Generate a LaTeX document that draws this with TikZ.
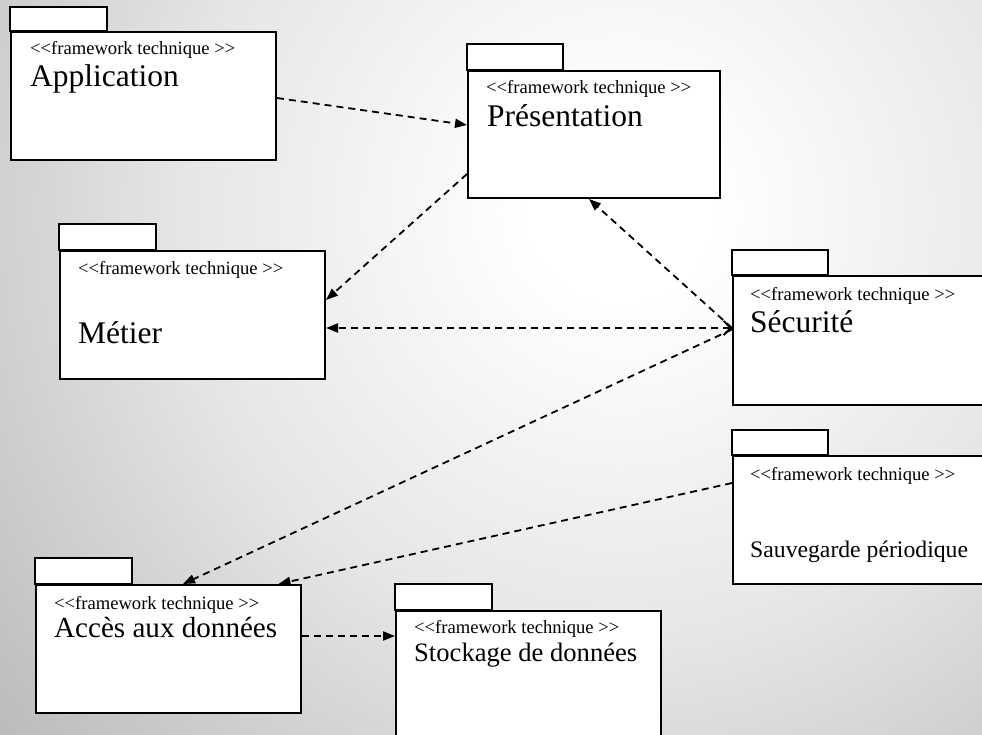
\documentclass[tikz,border=0pt]{standalone}
\usepackage{fontspec}
\setmainfont{Liberation Serif}
\usetikzlibrary{arrows.meta}

% soft radial backdrop: white centre fading to mid grey
% (the central 25bp radius is what gets scaled onto the shaded circle)
\pgfdeclareradialshading{backdrop}{\pgfpoint{0bp}{0bp}}{%
  color(0bp)=(white);
  color(2.5bp)=(white);
  color(12.2bp)=(black!10);
  color(17.8bp)=(black!19);
  color(22.2bp)=(black!26);
  color(25bp)=(black!28);
  color(50bp)=(black!28)}

% guillemet-free double angle brackets
\newcommand\stereotxt{<\kern0pt<framework technique >\kern0pt>}

\tikzset{
  pkgbody/.style={draw=black, fill=white, line width=2pt, rectangle,
    inner sep=0pt, anchor=north west},
  pkgtab/.style={draw=black, fill=white, line width=2pt},
  stereo/.style={anchor=base west, inner sep=0pt,
    font=\fontsize{18.6}{20}\selectfont},
  pkgname/.style={anchor=base west, inner sep=0pt,
    font=\fontsize{31.5}{34}\selectfont},
  dep/.style={line width=1.8pt, dash pattern=on 7pt off 5pt,
    -{Triangle[length=12pt,width=9pt]}},
}

\begin{document}
\begin{tikzpicture}[x=1pt,y=-1pt]
  \useasboundingbox (0,0) rectangle (982,735);
  \clip (0,0) rectangle (982,735);
  \shade[shading=backdrop] (620,210) circle (900);

  % Application
  \draw[pkgtab] (10,7) rectangle (107,31);
  \node[pkgbody, minimum width=265pt, minimum height=128pt] (app) at (10,31) {};
  \node[stereo] (appS) at (30,55) {\stereotxt};
  \node[pkgname] (appN) at (30,87) {Application};

  % Présentation
  \draw[pkgtab] (467,44) rectangle (563,70);
  \node[pkgbody, minimum width=252pt, minimum height=127pt] (pres) at (467,70) {};
  \node[stereo] (presS) at (486,94) {\stereotxt};
  \node[pkgname] (presN) at (487,127) {Présentation};

  % Métier
  \draw[pkgtab] (59,224) rectangle (156,250);
  \node[pkgbody, minimum width=265pt, minimum height=128pt] (met) at (59,250) {};
  \node[stereo] (metS) at (78,274) {\stereotxt};
  \node[pkgname] (metN) at (78,343) {Métier};

  % Sécurité
  \draw[pkgtab] (732,250) rectangle (828,275);
  \node[pkgbody, minimum width=258pt, minimum height=129pt] (sec) at (732,275) {};
  \node[stereo] (secS) at (750,301) {\stereotxt};
  \node[pkgname] (secN) at (750,332) {Sécurité};

  % Sauvegarde périodique
  \draw[pkgtab] (732,430) rectangle (828,455);
  \node[pkgbody, minimum width=258pt, minimum height=128pt] (sauv) at (732,455) {};
  \node[stereo] (sauvS) at (750,480) {\stereotxt};
  \node[anchor=base west, inner sep=0pt, font=\fontsize{23.7}{26}\selectfont]
    (sauvN) at (750,557) {Sauvegarde périodique};

  % Accès aux données
  \draw[pkgtab] (35,558) rectangle (132,584);
  \node[pkgbody, minimum width=265pt, minimum height=128pt] (acc) at (35,584) {};
  \node[stereo] (accS) at (54,609) {\stereotxt};
  \node[anchor=base west, inner sep=0pt, font=\fontsize{29.1}{32}\selectfont]
    (accN) at (54,637) {Accès aux données};

  % Stockage de données
  \draw[pkgtab] (395,584) rectangle (492,610);
  \node[pkgbody, minimum width=265pt, minimum height=150pt] (sto) at (395,610) {};
  \node[stereo] (stoS) at (414,633) {\stereotxt};
  \node[anchor=base west, inner sep=0pt, font=\fontsize{26.6}{29}\selectfont]
    (stoN) at (414,661) {Stockage de données};

  % dependencies
  \draw[dep] ([yshift=-2pt]app.east) -- ([yshift=9.5pt]pres.west);
  \draw[dep] ([yshift=-39.5pt]pres.west) -- ([yshift=15pt]met.east);
  \draw[dep, {Straight Barb[length=7pt,width=14pt]}-{Triangle[length=12pt,width=9pt]}]
    ([yshift=12.5pt]sec.west) -- ([yshift=-13pt]met.east);
  \draw[dep] ([yshift=12.5pt]sec.west) -- ([xshift=-5pt]pres.south);
  \draw[dep] ([yshift=11pt]sec.west) -- ([xshift=14.5pt]acc.north);
  \draw[dep] ([yshift=37pt]sauv.west) -- ([xshift=110pt]acc.north);
  \draw[dep] ([yshift=13pt]acc.east) -- ([yshift=50pt]sto.west);
\end{tikzpicture}
\end{document}
